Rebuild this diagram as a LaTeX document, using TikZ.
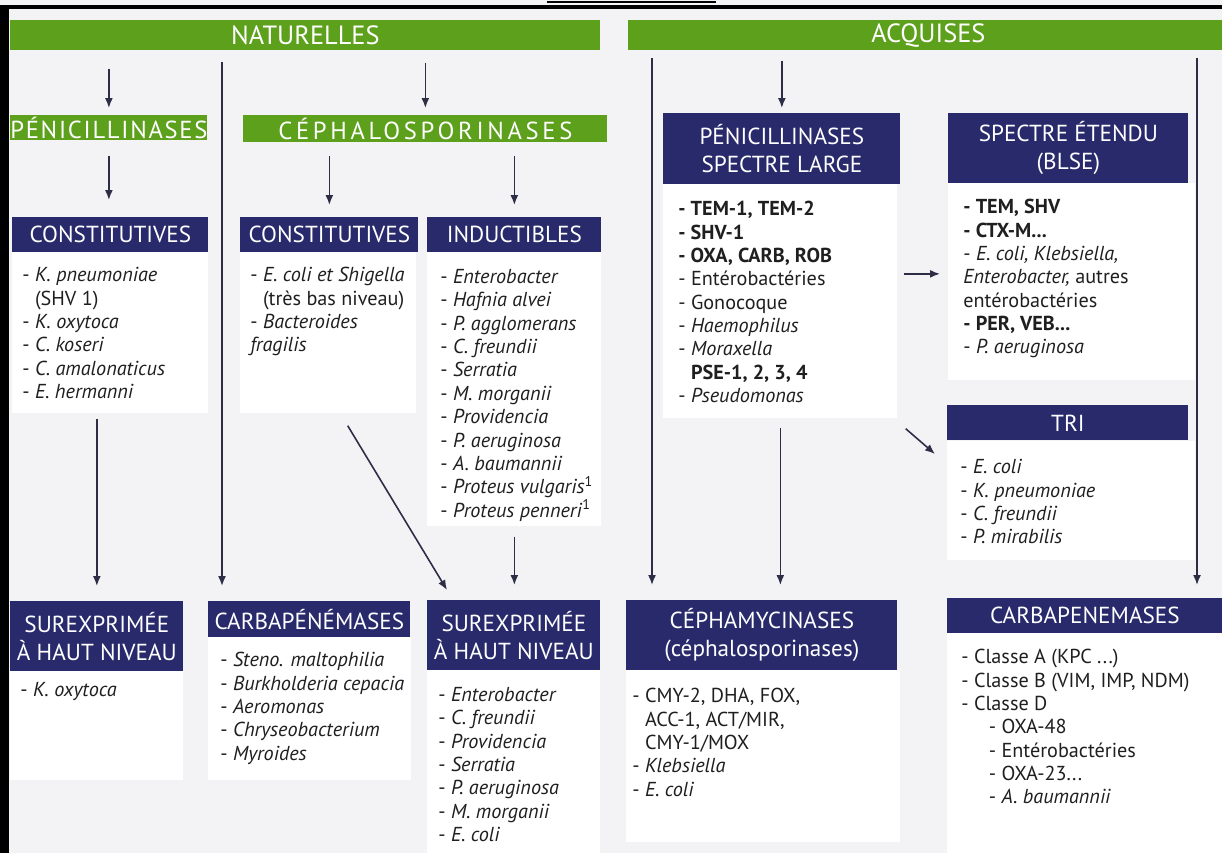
\documentclass[tikz,border=0pt]{standalone}
\usepackage{fontspec}
\setmainfont{PT Sans}
\usetikzlibrary{arrows.meta}
\definecolor{grn}{RGB}{92,160,28}
\definecolor{nav}{RGB}{40,42,108}
\definecolor{bgc}{RGB}{243,243,246}
\definecolor{arc}{RGB}{45,45,70}
\begin{document}
\begin{tikzpicture}[x=0.02cm,y=-0.02cm,
 wh/.style 2 args={minimum width=#1*0.02cm, minimum height=#2*0.02cm},
 gbar/.style={fill=grn, text=white, inner sep=0pt, anchor=north west, font=\fontsize{15}{17}\selectfont},
 gsub/.style={gbar, font=\fontsize{14}{16}\selectfont\addfontfeature{LetterSpace=#1}},
 dbox/.style={fill=nav, text=white, inner sep=0pt, anchor=north west, align=center, font=\fontsize{13.2}{16}\selectfont},
 wbox/.style={fill=white, inner sep=0pt, anchor=north west},
 body/.style={anchor=north west, inner sep=0pt, align=left, text=black!88, font=\fontsize{11.5}{13.3}\selectfont},
 arr/.style={draw=arc, line width=0.9pt, -{Latex[length=2mm,width=1.6mm]}},
]
\useasboundingbox (0,0) rectangle (1222,853);
\fill[bgc] (0,0) rectangle (1222,853);
\clip (0,0) rectangle (1222,853);
% frame
\fill[black] (0,5) rectangle (1222,9);
\fill[black] (0,5) rectangle (9,853);
\draw[black, line width=1.2pt] (547,2) -- (716,2);

% green bars
\node[gbar, wh={590}{30}] (nat) at (10,20) {NATURELLES};
\node[gbar, wh={600}{30}] (acq) at (628,20) {ACQUISES};
\node[gsub=7, wh={195}{25}] (peni) at (10,115) {PÉNICILLINASES};
\node[gsub=15, wh={364}{27}] (ceph) at (243,115) {CÉPHALOSPORINASES};

% white boxes
\node[wbox, wh={196}{161}] (c1b) at (12,252) {};
\node[wbox, wh={176}{161}] (c2b) at (240,252) {};
\node[wbox, wh={174}{274}] (indb) at (427,252) {};
\node[wbox, wh={234}{234}] (pslb) at (663,184) {};
\node[wbox, wh={247}{197}] (bb) at (948,183) {};
\node[wbox, wh={248}{119}] (trib) at (947,441) {};
\node[wbox, wh={173}{109}] (s1b) at (10,671) {};
\node[wbox, wh={203}{143}] (carb) at (208,637) {};
\node[wbox, wh={173}{183}] (s2b) at (427,670) {};
\node[wbox, wh={274}{172}] (cmb) at (626,670) {};
\node[wbox, wh={275}{220}] (cr2b) at (947,633) {};

% dark headers
\node[dbox, wh={196}{35}] (c1h) at (12,217) {CONSTITUTIVES};
\node[dbox, wh={178}{35}] (c2h) at (240,217) {CONSTITUTIVES};
\node[dbox, wh={174}{35}] (indh) at (427,217) {INDUCTIBLES};
\node[dbox, wh={237}{71}] (psl) at (663,113) {PÉNICILLINASES\\SPECTRE LARGE};
\node[dbox, wh={240}{70}] (bh) at (948,113) {SPECTRE ÉTENDU\\(BLSE)};
\node[dbox, wh={241}{35}] (trih) at (947,405) {TRI};
\node[dbox, wh={173}{70}] (s1h) at (10,601) {SUREXPRIMÉE\\À HAUT NIVEAU};
\node[dbox, wh={202}{36}] (carh) at (208,601) {CARBAPÉNÉMASES};
\node[dbox, wh={173}{70}] (s2h) at (427,600) {SUREXPRIMÉE\\À HAUT NIVEAU};
\node[dbox, wh={271}{70}] (cmh) at (626,600) {CÉPHAMYCINASES\\(céphalosporinases)};
\node[dbox, wh={275}{35}] (cr2h) at (947,598) {CARBAPENEMASES};

% body texts
\node[body] (t1) at (22,267) {- \textit{K. pneumoniae}\\\phantom{- }(SHV 1)\\- \textit{K. oxytoca}\\- \textit{C. koseri}\\- \textit{C. amalonaticus}\\- \textit{E. hermanni}};
\node[body] (t2) at (250,267) {- \textit{E. coli et Shigella}\\\phantom{- }(très bas niveau)\\- \textit{Bacteroides}\\\textit{fragilis}};
\node[body] (t3) at (440,269) {- \textit{Enterobacter}\\- \textit{Hafnia alvei}\\- \textit{P. agglomerans}\\- \textit{C. freundii}\\- \textit{Serratia}\\- \textit{M. morganii}\\- \textit{Providencia}\\- \textit{P. aeruginosa}\\- \textit{A. baumannii}\\- \textit{Proteus vulgaris}\textsuperscript{1}\\- \textit{Proteus penneri}\textsuperscript{1}};
\node[body] (t4) at (678,201) {\textbf{- TEM-1, TEM-2}\\\textbf{- SHV-1}\\\textbf{- OXA, CARB, ROB}\\- Entérobactéries\\- Gonocoque\\- \textit{Haemophilus}\\- \textit{Moraxella}\\\phantom{- }\textbf{PSE-1, 2, 3, 4}\\- \textit{Pseudomonas}};
\node[body] (t5) at (963,199) {\textbf{- TEM, SHV}\\\textbf{- CTX-M...}\\- \textit{E. coli, Klebsiella,}\\\textit{Enterobacter,} autres\\entérobactéries\\\textbf{- PER, VEB...}\\- \textit{P. aeruginosa}};
\node[body] (t6) at (960,459) {- \textit{E. coli}\\- \textit{K. pneumoniae}\\- \textit{C. freundii}\\- \textit{P. mirabilis}};
\node[body] (t7) at (20,682) {- \textit{K. oxytoca}};
\node[body] (t8) at (220,652) {- \textit{Steno. maltophilia}\\- \textit{Burkholderia cepacia}\\- \textit{Aeromonas}\\- \textit{Chryseobacterium}\\- \textit{Myroides}};
\node[body] (t9) at (438,687) {- \textit{Enterobacter}\\- \textit{C. freundii}\\- \textit{Providencia}\\- \textit{Serratia}\\- \textit{P. aeruginosa}\\- \textit{M. morganii}\\- \textit{E. coli}};
\node[body] (t10) at (632,688) {- CMY-2, DHA, FOX,\\\phantom{- }ACC-1, ACT/MIR,\\\phantom{- }CMY-1/MOX\\- \textit{Klebsiella}\\- \textit{E. coli}};
\node[body] (t11) at (961,649) {- Classe A (KPC ...)\\- Classe B (VIM, IMP, NDM)\\- Classe D\\\hspace*{0.55cm}- OXA-48\\\hspace*{0.55cm}- Entérobactéries\\\hspace*{0.55cm}- OXA-23...\\\hspace*{0.55cm}- \textit{A. baumannii}};

% free ends
\coordinate (nv) at (222,62);
\coordinate (av) at (652,58);
\coordinate (bv) at (1197,58);
\path ([shift={(0,-8)}]bb.west) coordinate (bw);

% connectors
\draw[arr, shorten <=0.36cm, shorten >=0.14cm] (nat.south -| peni.north) -- (peni.north);
\draw[arr, shorten >=0.3cm] (nv) -- (nv |- carh.north);
\draw[arr, shorten <=0.24cm, shorten >=0.14cm] (nat.south -| ceph.north) -- (ceph.north);
\draw[arr, shorten <=0.3cm, shorten >=0.34cm] (peni.south) -- (peni.south |- c1h.north);
\draw[arr, shorten <=0.26cm, shorten >=0.24cm] (ceph.south -| c2h.north) -- (c2h.north);
\draw[arr, shorten <=0.26cm, shorten >=0.24cm] (ceph.south -| indh.north) -- (indh.north);
\draw[arr, shorten <=0.1cm, shorten >=0.3cm] (s1h.north |- c1b.south) -- (s1h.north);
\draw[arr] ([shift={(-69,12)}]c2b.south east) -- ([shift={(20,-10)}]s2h.north west);
\draw[arr, shorten <=0.2cm, shorten >=0.3cm] (indb.south) -- (indb.south |- s2h.north);
\draw[arr, shorten >=0.3cm] (av) -- (av |- cmh.north);
\draw[arr, shorten <=0.2cm, shorten >=0.1cm] (acq.south -| psl.north) -- (psl.north);
\draw[arr, shorten >=0.26cm] (bv) -- (bv |- cr2h.north);
\draw[arr, shorten <=0.12cm, shorten >=0.16cm] (pslb.east |- bw) -- (bw);
\draw[arr] ([shift={(8,10)}]pslb.south east) -- ([shift={(-12,13)}]trib.north west);
\draw[arr, shorten <=0.18cm, shorten >=0.3cm] (pslb.south) -- (pslb.south |- cmh.north);
\end{tikzpicture}
\end{document}
